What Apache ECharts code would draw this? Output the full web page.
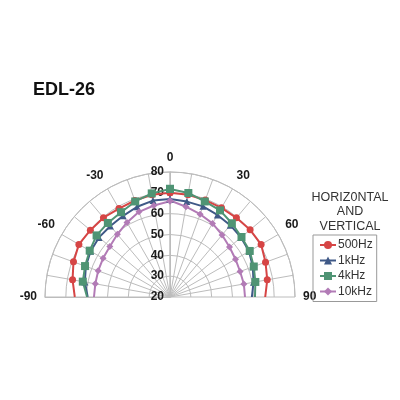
<!DOCTYPE html>
<html>
<head>
<meta charset="utf-8">
<script src="https://cdn.jsdelivr.net/npm/echarts@6/dist/echarts.min.js"></script>
<style>html,body{margin:0;padding:0;background:#fff;}#c{width:400px;height:400px;}</style>
</head>
<body>
<div id="c"></div>
<script>
// Angles (degrees): right half and left half of the polar plot
var anglesRight = [0, 10, 20, 30, 40, 50, 60, 70, 80, 90];
var anglesLeft = [-90, -80, -70, -60, -50, -40, -30, -20, -10, 0];
var radialTicks = [20, 30, 40, 50, 60, 70, 80];
var angleTickLabels = [-90, -60, -30, 0, 30, 60, 90];

var seriesNames = ['500Hz', '1kHz', '4kHz', '10kHz'];
// Level (dB) per angle, right half (0..90)
var r500 = [70, 69.8, 69.5, 69.4, 69.6, 70.2, 70.5, 68.8, 67.4, 65.7];
var r1k = [67, 66.5, 66.3, 65.5, 65, 64.5, 63.8, 62.3, 60.7, 59.3];
var r4k = [71.9, 70.7, 68.8, 68, 66.2, 64.8, 64.2, 62.8, 61.6, 60.8];
var r10k = [66.3, 64, 62.3, 60.8, 58.9, 57.3, 56.3, 55.8, 56, 56];
// Level (dB) per angle, left half (-90..0)
var l500 = [65.7, 67.5, 69.3, 70.5, 69.9, 69.7, 69, 69.3, 69.8, 70];
var l1k = [59.5, 61.5, 63, 64, 64.5, 64.5, 65, 66.1, 67, 67];
var l4k = [59.8, 62.5, 63.4, 64.5, 66, 66.4, 67, 68.8, 70.5, 71.9];
var l10k = [56.5, 56.4, 56.7, 57.1, 57.7, 59.3, 61.3, 63.5, 64.6, 66];

var colors = ['#d64545', '#3f5987', '#4f9474', '#b27bb6'];
var symbols = ['circle', 'triangle', 'rect', 'diamond'];
var symSizes = [7, 7, 8, 7];
var rightData = [r500, r1k, r4k, r10k];
var leftData = [l500, l1k, l4k, l10k];

function build(vals, angs) {
  return vals.map(function (v, i) {
    var item = { value: [v, angs[i]] };
    if (Math.abs(angs[i]) === 90) item.symbol = 'none';
    return item;
  });
}

var gridColor = '#bcbcbc';
var labelStyle = { color: '#1a1a1a', fontWeight: 'bold', fontSize: 12, fontFamily: 'Liberation Sans, Arial, sans-serif' };

function angleAxis(idx, min, max, start, end, showZero) {
  return {
    polarIndex: idx, type: 'value', min: min, max: max, interval: 10,
    startAngle: start, endAngle: end, clockwise: true,
    axisLine: { show: true, lineStyle: { color: gridColor, width: 1 } },
    axisTick: { show: false },
    splitLine: { show: true, lineStyle: { color: gridColor, width: 1 } },
    axisLabel: Object.assign({
      margin: 8,
      formatter: function (v) {
        if (angleTickLabels.indexOf(v) < 0) return '';
        if (v === 0 && !showZero) return '';
        return String(v);
      }
    }, labelStyle)
  };
}

function radiusAxis(idx, showLabels) {
  return {
    polarIndex: idx, type: 'value', min: radialTicks[0], max: radialTicks[radialTicks.length - 1], interval: 10,
    axisLine: { show: true, lineStyle: { color: gridColor } },
    axisTick: { show: false },
    splitLine: { show: true, lineStyle: { color: gridColor, width: 1 } },
    axisLabel: Object.assign({ show: showLabels, margin: 6 }, labelStyle)
  };
}

var series = [];
seriesNames.forEach(function (n, k) {
  [[0, rightData[k], anglesRight], [1, leftData[k], anglesLeft]].forEach(function (p) {
    series.push({
      name: n, type: 'line', coordinateSystem: 'polar', polarIndex: p[0],
      data: build(p[1], p[2]),
      symbol: symbols[k], symbolSize: symSizes[k],
      itemStyle: { color: colors[k] },
      lineStyle: { color: colors[k], width: 2 },
      animation: false
    });
  });
});

var chart = echarts.init(document.getElementById('c'));
chart.setOption({
  backgroundColor: '#fff',
  animation: false,
  title: [
    { text: 'EDL-26', left: 28, top: 76, textStyle: { fontSize: 18, fontWeight: 'bold', color: '#111', fontFamily: 'Liberation Sans, Arial, sans-serif' } },
    { text: 'HORIZ0NTAL\nAND\nVERTICAL', left: 345, top: 185, textAlign: 'center',
      textStyle: { fontSize: 12.5, fontWeight: 'normal', color: '#333', lineHeight: 14.5, fontFamily: 'Liberation Sans, Arial, sans-serif' } }
  ],
  legend: {
    data: seriesNames, orient: 'vertical', left: 313, top: 235,
    padding: [4, 4, 4, 6], itemGap: 3.5, itemWidth: 16, itemHeight: 10,
    borderColor: '#999', borderWidth: 1,
    textStyle: { fontSize: 12, color: '#333', fontFamily: 'Liberation Sans, Arial, sans-serif', padding: [0, 0, 0, -3] }
  },
  polar: [
    { center: [170, 297], radius: 125 },
    { center: [170, 297], radius: 125 }
  ],
  angleAxis: [
    angleAxis(0, 0, 90, 90, 0, true),
    angleAxis(1, -90, 0, 180, 90, false)
  ],
  radiusAxis: [radiusAxis(0, true), radiusAxis(1, false)],
  series: series
});
</script>
</body>
</html>
